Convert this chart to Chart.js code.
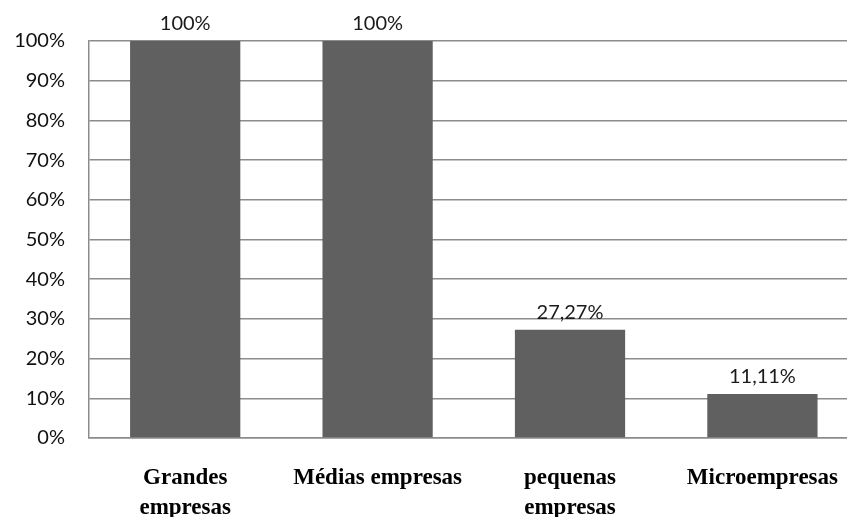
<!DOCTYPE html>
<html>
<head>
<meta charset="utf-8">
<script src="https://cdn.jsdelivr.net/npm/chart.js@4.4.1/dist/chart.umd.min.js"></script>
<style>
  body { margin: 0; overflow: hidden; background: #fff; }
</style>
</head>
<body>
<canvas id="grafico" width="863" height="517"></canvas>
<script>
const categorias = [['Grandes', 'empresas'], 'Médias empresas', ['pequenas', 'empresas'], 'Microempresas'];
const valores = [100, 100, 27.27, 11.11];
const marcasY = [0, 10, 20, 30, 40, 50, 60, 70, 80, 90, 100];

// texto do rotulo: 100 -> "100%", 27.27 -> "27,27%"
function formatar(v) {
  if (Number.isInteger(v)) return v + '%';
  return v.toFixed(2).replace('.', ',') + '%';
}

// escreve o valor em cima de cada barra
const rotulos = {
  id: 'rotulos',
  afterDatasetsDraw(chart) {
    const ctx = chart.ctx;
    const meta = chart.getDatasetMeta(0);
    ctx.save();
    ctx.font = '20px Lato';
    ctx.fillStyle = '#1a1a1a';
    ctx.textAlign = 'center';
    ctx.textBaseline = 'middle';
    meta.data.forEach((barra, i) => {
      ctx.fillText(formatar(valores[i]), barra.x, barra.y - 17);
    });
    ctx.restore();
  }
};

const grafico = document.getElementById('grafico');
new Chart(grafico, {
  type: 'bar',
  data: {
    labels: categorias,
    datasets: [{
      data: valores,
      backgroundColor: '#606060',
      borderWidth: 0,
      categoryPercentage: 1,
      barPercentage: 0.573
    }]
  },
  options: {
    responsive: false,
    animation: false,
    layout: {
      padding: { top: 41, left: 0, right: 0, bottom: 0 }
    },
    plugins: {
      legend: { display: false },
      tooltip: { enabled: false }
    },
    scales: {
      x: {
        afterFit: (escala) => { escala.height = 79; },
        grid: { display: false, drawTicks: false },
        border: { display: true, color: '#8c8c8c', width: 1.5 },
        ticks: {
          color: '#000',
          padding: 25,
          maxRotation: 0,
          autoSkip: false,
          font: { family: '"Liberation Serif", "Times New Roman", serif', size: 23, weight: 'bold', lineHeight: '30px' }
        }
      },
      y: {
        min: 0,
        max: 100,
        afterFit: (escala) => { escala.width = 89; },
        afterBuildTicks: (escala) => { escala.ticks = marcasY.map(v => ({ value: v })); },
        grid: { color: '#8c8c8c', lineWidth: 1.5, drawTicks: false },
        border: { display: true, color: '#8c8c8c', width: 1.5 },
        ticks: {
          color: '#111',
          padding: 24,
          font: { family: 'Lato', size: 20 },
          callback: (v) => v + '%'
        }
      }
    }
  },
  plugins: [rotulos]
});
</script>
</body>
</html>
